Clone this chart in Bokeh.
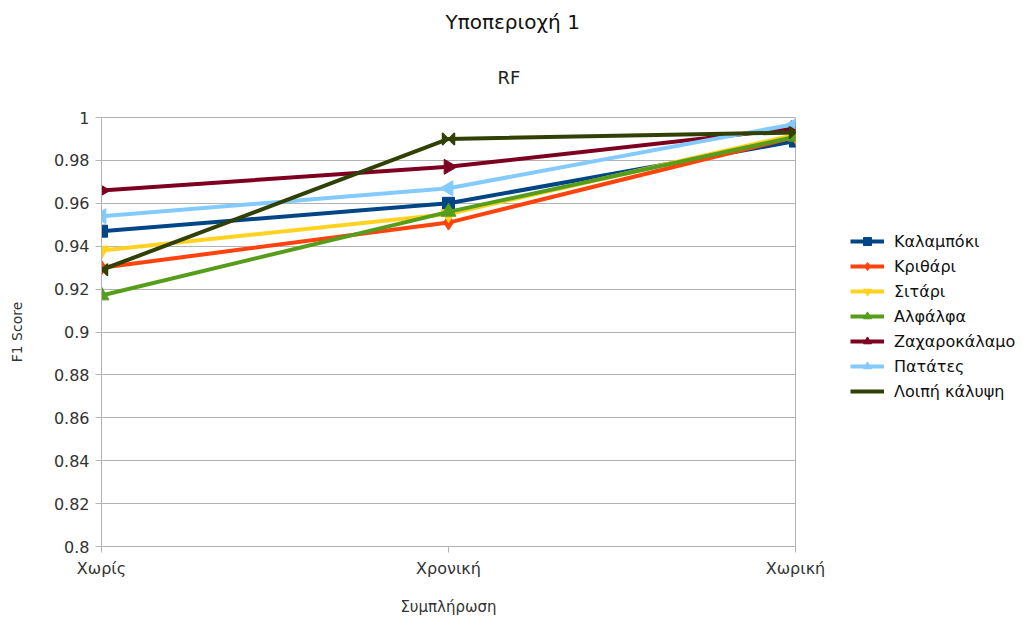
import numpy as np
from bokeh.plotting import figure
from bokeh.models import (ColumnDataSource, FixedTicker, Legend, LegendItem,
                          Title, Range1d)
from bokeh.embed import file_html
from bokeh.resources import INLINE

# ---- data -------------------------------------------------------------
categories = ["Χωρίς", "Χρονική", "Χωρική"]

kalampoki = [0.947, 0.960, 0.989]
krithari = [0.930, 0.951, 0.991]
sitari = [0.938, 0.955, 0.992]
alfalfa = [0.917, 0.956, 0.991]
zacharokalamo = [0.966, 0.977, 0.995]
patates = [0.954, 0.967, 0.997]
loipi = [0.929, 0.990, 0.993]

series_names = ["Καλαμπόκι", "Κριθάρι", "Σιτάρι", "Αλφάλφα",
                "Ζαχαροκάλαμο", "Πατάτες", "Λοιπή κάλυψη"]

y_ticks = [0.8, 0.82, 0.84, 0.86, 0.88, 0.9, 0.92, 0.94, 0.96, 0.98, 1.0]
y_tick_labels = ["0.8", "0.82", "0.84", "0.86", "0.88", "0.9",
                 "0.92", "0.94", "0.96", "0.98", "1"]

# ---- styling ------------------------------------------------------------
colors = ["#004586", "#ff420e", "#ffd320", "#579d1c",
          "#7e0021", "#83caff", "#314004"]
markers = ["square", "diamond", "inverted_triangle", "triangle",
           "triangle", "triangle", None]
marker_sizes = [12, 15, 15, 15, 15, 15, 0]
angles = [0, 0, 0, 0, -np.pi / 2, np.pi / 2, 0]
FONT = "DejaVu Sans"
GRID = "#b3b3b3"
FRAME_W, FRAME_H = 694, 429

x_pos = list(range(len(categories)))

p = figure(frame_width=FRAME_W, frame_height=FRAME_H, title=None,
           x_range=Range1d(0, len(categories) - 1), y_range=Range1d(0.8, 1.0),
           output_backend="svg", toolbar_location=None,
           min_border_left=101, min_border_right=227,
           min_border_top=117, min_border_bottom=0)

p.outline_line_color = GRID
p.xgrid.grid_line_color = None
p.ygrid.grid_line_color = GRID
p.ygrid.ticker = FixedTicker(ticks=y_ticks)

# axes
p.yaxis.ticker = FixedTicker(ticks=y_ticks)
p.yaxis.major_label_overrides = dict(zip(y_ticks, y_tick_labels))
p.xaxis.ticker = FixedTicker(ticks=x_pos)
p.xaxis.major_label_overrides = dict(zip(x_pos, categories))
for ax in (p.xaxis[0], p.yaxis[0]):
    ax.axis_line_color = GRID
    ax.major_tick_line_color = GRID
    ax.major_tick_out = 6
    ax.major_tick_in = 0
    ax.minor_tick_line_color = None
    ax.major_label_text_font = FONT
    ax.major_label_text_font_size = "16px"
    ax.major_label_text_color = "#333333"
    ax.axis_label_text_font = FONT
    ax.axis_label_text_font_size = "14px"
    ax.axis_label_text_font_style = "normal"
    ax.axis_label_text_color = "#333333"
p.xaxis.axis_label = "Συμπλήρωση"
p.xaxis.axis_label_text_font_size = "15px"
p.yaxis.axis_label = "F1 Score"
p.xaxis.major_label_standoff = 6
p.xaxis.axis_label_standoff = 17
p.yaxis.major_label_standoff = 6
p.yaxis.axis_label_standoff = 26

# titles (last added sits on top), centred over the whole canvas
p.add_layout(Title(text="RF", align="left", offset=396,
                   text_font=FONT, text_font_size="18px",
                   text_font_style="normal", text_color="#222222",
                   standoff=60), "above")
p.add_layout(Title(text="Υποπεριοχή 1", align="left", offset=344,
                   text_font=FONT, text_font_size="20px",
                   text_font_style="normal", text_color="#111111",
                   standoff=2), "above")

values = [kalampoki, krithari, sitari, alfalfa, zacharokalamo, patates, loipi]
items = []
for name, vals, col, mk, ms, ang in zip(series_names, values, colors,
                                        markers, marker_sizes, angles):
    src = ColumnDataSource(dict(x=x_pos, y=vals))
    ln = p.line("x", "y", source=src, line_color=col, line_width=4)
    rends = [ln]
    if mk is not None:
        sc = p.scatter("x", "y", source=src, marker=mk, size=ms, angle=ang,
                       fill_color=col, line_color=col)
        rends.append(sc)
    else:
        # bow-tie markers: two triangles meeting at the data point
        dx = 6 * (len(categories) - 1) / FRAME_W
        dy = 6 * 0.2 / FRAME_H
        xs = [[x - dx, x + dx, x + dx, x - dx] for x in x_pos]
        ys = [[y + dy, y - dy, y + dy, y - dy] for y in vals]
        p.patches(xs, ys, fill_color=col, line_color=col, line_width=1.5)
        legend_icon = p.scatter([], [], marker="x", size=11,
                                line_color=col, line_width=3)
        rends.append(legend_icon)
    items.append(LegendItem(label=name, renderers=rends))

legend = Legend(items=items, location=(55, 145), padding=0, margin=0,
                spacing=5, glyph_width=34, glyph_height=20,
                label_standoff=10, label_text_font=FONT,
                label_text_font_size="16px", label_text_color="#111111",
                border_line_color=None, background_fill_alpha=0)
p.add_layout(legend, "right")

open("out.html", "w").write(file_html(p, INLINE))
